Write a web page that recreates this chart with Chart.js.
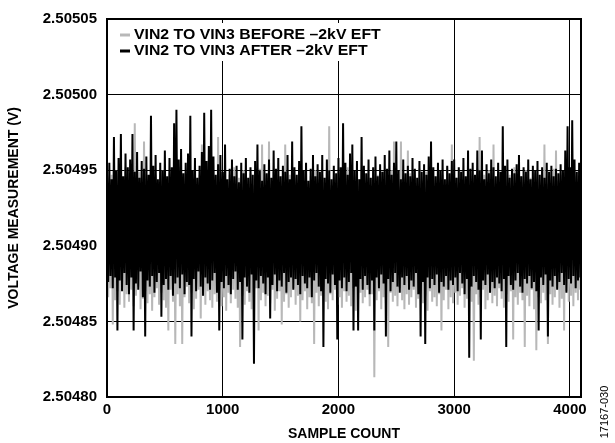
<!DOCTYPE html>
<html>
<head>
<meta charset="utf-8">
<script src="https://cdn.jsdelivr.net/npm/chart.js@4.4.1/dist/chart.umd.min.js"></script>
<style>
  html, body { margin: 0; padding: 0; background: #fff; }
  #wrap { width: 615px; height: 443px; }
</style>
</head>
<body>
<div id="wrap"><canvas id="chart" width="615" height="443"></canvas></div>
<script>
// samples are evenly spaced, one stored value every sampleStep samples
const sampleStep = 10;
const xTicks = [0, 1000, 2000, 3000, 4000];
const yTicks = [2.50480, 2.50485, 2.50490, 2.50495, 2.50500, 2.50505];
const seriesLabels = ['VIN2 TO VIN3 BEFORE \u20132kV EFT', 'VIN2 TO VIN3 AFTER \u20132kV EFT'];
const figureId = '17167-030';

// before -2kV EFT (grey)
const beforeVals = [
  2.504942,2.504866,2.504938,2.504872,2.504947,2.504848,2.504940,2.504864,2.504950,2.504870,2.504936,2.504861,2.504945,2.504874,2.504939,2.504859,2.504952,2.504868,2.504941,2.504863,
  2.504946,2.504871,2.504937,2.504860,2.504981,2.504867,2.504943,2.504873,2.504949,2.504858,2.504938,2.504865,2.504969,2.504870,2.504944,2.504862,2.504940,2.504868,2.504951,2.504857,
  2.504936,2.504866,2.504947,2.504872,2.504942,2.504861,2.504939,2.504869,2.504950,2.504864,2.504945,2.504859,2.504937,2.504844,2.504948,2.504871,2.504941,2.504863,2.504946,2.504835,
  2.504938,2.504868,2.504952,2.504860,2.504943,2.504835,2.504940,2.504866,2.504949,2.504873,2.504936,2.504862,2.504945,2.504869,2.504942,2.504858,2.504950,2.504865,2.504939,2.504871,
  2.504947,2.504852,2.504967,2.504867,2.504941,2.504861,2.504944,2.504870,2.504937,2.504864,2.504951,2.504859,2.504940,2.504868,2.504946,2.504863,2.504972,2.504872,2.504943,2.504860,
  2.504938,2.504866,2.504949,2.504857,2.504942,2.504869,2.504947,2.504862,2.504936,2.504871,2.504952,2.504865,2.504941,2.504859,2.504945,2.504833,2.504939,2.504867,2.504950,2.504861,
  2.504944,2.504870,2.504937,2.504863,2.504948,2.504858,2.504940,2.504866,2.504946,2.504872,2.504942,2.504844,2.504951,2.504864,2.504967,2.504869,2.504938,2.504860,2.504945,2.504867,
  2.504969,2.504862,2.504941,2.504871,2.504949,2.504857,2.504936,2.504865,2.504944,2.504870,2.504939,2.504848,2.504950,2.504863,2.504967,2.504868,2.504942,2.504859,2.504947,2.504866,
  2.504937,2.504872,2.504945,2.504861,2.504940,2.504867,2.504952,2.504850,2.504943,2.504864,2.504938,2.504870,2.504948,2.504858,2.504941,2.504866,2.504946,2.504862,2.504939,2.504835,
  2.504950,2.504869,2.504944,2.504860,2.504936,2.504867,2.504947,2.504873,2.504942,2.504863,2.504951,2.504858,2.504979,2.504868,2.504940,2.504864,2.504945,2.504871,2.504938,2.504861,
  2.504949,2.504866,2.504943,2.504859,2.504947,2.504870,2.504937,2.504863,2.504952,2.504867,2.504941,2.504860,2.504946,2.504872,2.504939,2.504857,2.504950,2.504865,2.504944,2.504869,
  2.504936,2.504862,2.504948,2.504866,2.504942,2.504871,2.504945,2.504860,2.504940,2.504868,2.504951,2.504813,2.504938,2.504864,2.504947,2.504870,2.504943,2.504858,2.504949,2.504866,
  2.504937,2.504862,2.504946,2.504833,2.504941,2.504869,2.504950,2.504863,2.504969,2.504867,2.504944,2.504860,2.504939,2.504872,2.504969,2.504864,2.504945,2.504858,2.504942,2.504868,
  2.504963,2.504861,2.504948,2.504866,2.504936,2.504871,2.504947,2.504859,2.504940,2.504865,2.504951,2.504869,2.504943,2.504862,2.504938,2.504867,2.504949,2.504857,2.504944,2.504870,
  2.504941,2.504863,2.504946,2.504866,2.504937,2.504860,2.504950,2.504868,2.504942,2.504844,2.504947,2.504864,2.504939,2.504871,2.504952,2.504858,2.504943,2.504866,2.504967,2.504862,
  2.504940,2.504869,2.504945,2.504861,2.504938,2.504867,2.504949,2.504872,2.504944,2.504859,2.504936,2.504865,2.504948,2.504870,2.504941,2.504863,2.504946,2.504824,2.504939,2.504868,
  2.504951,2.504861,2.504972,2.504866,2.504943,2.504871,2.504947,2.504858,2.504937,2.504864,2.504950,2.504869,2.504942,2.504862,2.504967,2.504867,2.504940,2.504860,2.504945,2.504872,
  2.504938,2.504865,2.504949,2.504859,2.504944,2.504868,2.504936,2.504863,2.504947,2.504870,2.504941,2.504838,2.504952,2.504866,2.504943,2.504861,2.504939,2.504869,2.504946,2.504864,
  2.504942,2.504833,2.504950,2.504867,2.504937,2.504860,2.504945,2.504871,2.504940,2.504858,2.504948,2.504831,2.504944,2.504866,2.504938,2.504862,2.504949,2.504869,2.504967,2.504864,
  2.504941,2.504835,2.504946,2.504868,2.504939,2.504861,2.504951,2.504866,2.504963,2.504872,2.504943,2.504859,2.504947,2.504865,2.504940,2.504844,2.504945,2.504870,2.504938,2.504863,
  2.504950,2.504867,2.504942,2.504860,2.504946,2.504869,2.504939,2.504864,2.504944,2.504871
];

// after -2kV EFT (black)
const afterVals = [
  2.504948,2.504876,2.504955,2.504880,2.504944,2.504872,2.504972,2.504879,2.504950,2.504844,2.504958,2.504877,2.504974,2.504870,2.504946,2.504882,2.504961,2.504874,2.504952,2.504868,
  2.504957,2.504879,2.504974,2.504844,2.504949,2.504875,2.504962,2.504871,2.504945,2.504883,2.504956,2.504866,2.504951,2.504840,2.504959,2.504877,2.504947,2.504873,2.504986,2.504880,
  2.504953,2.504869,2.504960,2.504876,2.504944,2.504882,2.504955,2.504853,2.504950,2.504874,2.504963,2.504878,2.504946,2.504871,2.504958,2.504880,2.504952,2.504867,2.504981,2.504875,
  2.504990,2.504879,2.504957,2.504872,2.504964,2.504881,2.504948,2.504868,2.504955,2.504876,2.504961,2.504874,2.504986,2.504840,2.504950,2.504878,2.504958,2.504870,2.504945,2.504883,
  2.504953,2.504873,2.504962,2.504867,2.504988,2.504879,2.504956,2.504875,2.504966,2.504871,2.504990,2.504877,2.504959,2.504882,2.504947,2.504869,2.504954,2.504844,2.504960,2.504876,
  2.504949,2.504872,2.504967,2.504880,2.504944,2.504874,2.504951,2.504868,2.504957,2.504878,2.504946,2.504883,2.504953,2.504871,2.504942,2.504876,2.504955,2.504838,2.504948,2.504879,
  2.504958,2.504873,2.504945,2.504869,2.504952,2.504881,2.504947,2.504822,2.504956,2.504877,2.504967,2.504872,2.504950,2.504880,2.504943,2.504875,2.504954,2.504868,2.504948,2.504879,
  2.504957,2.504852,2.504945,2.504874,2.504963,2.504881,2.504951,2.504870,2.504958,2.504877,2.504946,2.504873,2.504953,2.504882,2.504949,2.504869,2.504960,2.504876,2.504944,2.504879,
  2.504969,2.504871,2.504952,2.504878,2.504947,2.504874,2.504956,2.504868,2.504979,2.504880,2.504950,2.504875,2.504955,2.504872,2.504943,2.504879,2.504951,2.504866,2.504960,2.504877,
  2.504946,2.504882,2.504954,2.504873,2.504949,2.504870,2.504960,2.504833,2.504945,2.504878,2.504957,2.504875,2.504950,2.504869,2.504944,2.504881,2.504953,2.504874,2.504948,2.504838,
  2.504958,2.504877,2.504952,2.504872,2.504981,2.504879,2.504955,2.504870,2.504947,2.504876,2.504961,2.504882,2.504967,2.504844,2.504950,2.504873,2.504956,2.504844,2.504944,2.504878,
  2.504972,2.504871,2.504953,2.504880,2.504948,2.504874,2.504957,2.504868,2.504945,2.504877,2.504952,2.504844,2.504959,2.504879,2.504946,2.504872,2.504954,2.504881,2.504949,2.504875,
  2.504960,2.504840,2.504951,2.504878,2.504963,2.504870,2.504947,2.504876,2.504955,2.504882,2.504969,2.504873,2.504950,2.504869,2.504944,2.504879,2.504957,2.504874,2.504948,2.504880,
  2.504953,2.504871,2.504946,2.504877,2.504958,2.504873,2.504951,2.504882,2.504945,2.504868,2.504956,2.504840,2.504949,2.504876,2.504954,2.504835,2.504947,2.504879,2.504959,2.504872,
  2.504969,2.504878,2.504952,2.504874,2.504946,2.504881,2.504955,2.504869,2.504950,2.504876,2.504957,2.504873,2.504944,2.504880,2.504953,2.504871,2.504948,2.504877,2.504956,2.504874,
  2.504957,2.504879,2.504945,2.504870,2.504952,2.504882,2.504949,2.504875,2.504958,2.504868,2.504946,2.504878,2.504963,2.504826,2.504951,2.504873,2.504955,2.504880,2.504947,2.504876,
  2.504963,2.504871,2.504950,2.504838,2.504963,2.504877,2.504944,2.504874,2.504954,2.504881,2.504948,2.504869,2.504957,2.504876,2.504952,2.504872,2.504946,2.504879,2.504955,2.504875,
  2.504949,2.504870,2.504979,2.504878,2.504953,2.504833,2.504957,2.504880,2.504945,2.504874,2.504951,2.504871,2.504948,2.504877,2.504954,2.504882,2.504960,2.504873,2.504946,2.504869,
  2.504952,2.504878,2.504949,2.504875,2.504957,2.504880,2.504944,2.504872,2.504953,2.504876,2.504950,2.504870,2.504956,2.504844,2.504947,2.504879,2.504952,2.504874,2.504945,2.504881,
  2.504955,2.504840,2.504949,2.504877,2.504953,2.504873,2.504946,2.504880,2.504951,2.504871,2.504948,2.504876,2.504954,2.504882,2.504950,2.504874,2.504963,2.504869,2.504979,2.504878,
  2.504952,2.504875,2.504983,2.504880,2.504957,2.504872,2.504949,2.504877,2.504955,2.504879
];

const FONT = 'Arial, "Liberation Sans", sans-serif';
const GREY = '#b8b8b8';

const toPoints = vals => vals.map((v, i) => ({ x: i * sampleStep, y: v }));

// legend box drawn inside the plot, top left
const insideLegend = {
  id: 'insideLegend',
  afterDatasetsDraw(chart) {
    const { ctx, chartArea: a } = chart;
    ctx.save();
    ctx.fillStyle = '#fff';
    ctx.fillRect(a.left + 2, a.top + 4, 278, 38);
    ctx.font = 'bold 14px ' + FONT;
    ctx.textBaseline = 'middle';
    const items = [chart.data.datasets[0], chart.data.datasets[1]];
    items.forEach((ds, i) => {
      const y = a.top + 16 + i * 16;
      ctx.strokeStyle = ds.borderColor;
      ctx.lineWidth = 3;
      ctx.beginPath();
      ctx.moveTo(a.left + 13, y);
      ctx.lineTo(a.left + 23, y);
      ctx.stroke();
      ctx.fillStyle = '#000';
      // reference lettering is a little wider than plain Arial
      ctx.save();
      ctx.translate(a.left + 27, y);
      ctx.scale(1.13, 1);
      ctx.fillText(ds.label, 0, 0);
      ctx.restore();
    });
    ctx.restore();
  }
};

const frame = {
  id: 'frame',
  afterDraw(chart) {
    const { ctx, chartArea: a } = chart;
    ctx.save();
    ctx.strokeStyle = '#000';
    ctx.lineWidth = 2;
    ctx.strokeRect(a.left, a.top, a.right - a.left, a.bottom - a.top);
    ctx.translate(605, 412);
    ctx.rotate(-Math.PI / 2);
    ctx.font = '11px ' + FONT;
    ctx.fillStyle = '#000';
    ctx.textAlign = 'center';
    ctx.textBaseline = 'middle';
    ctx.fillText(figureId, 0, 0);
    ctx.restore();
  }
};

new Chart(document.getElementById('chart'), {
  type: 'line',
  data: {
    datasets: [
      {
        label: seriesLabels[0],
        data: toPoints(beforeVals),
        borderColor: GREY,
        borderWidth: 2,
        pointRadius: 0,
        order: 1
      },
      {
        label: seriesLabels[1],
        data: toPoints(afterVals),
        borderColor: '#000',
        borderWidth: 2,
        pointRadius: 0,
        order: 0
      }
    ]
  },
  options: {
    responsive: false,
    animation: false,
    devicePixelRatio: 1,
    layout: { padding: { top: 15, right: 34, left: 0, bottom: 0 } },
    plugins: {
      legend: { display: false },
      tooltip: { enabled: false }
    },
    scales: {
      x: {
        type: 'linear',
        min: 0,
        max: 4096,
        afterBuildTicks: s => { s.ticks = xTicks.map(v => ({ value: v })); },
        afterFit: s => { s.height = 46; },
        ticks: {
          color: '#000',
          font: { family: FONT, size: 15, weight: 'bold' },
          padding: 4,
          maxRotation: 0,
          autoSkip: false,
          callback: v => String(v)
        },
        grid: { color: '#000', lineWidth: 1, drawTicks: false },
        border: { display: true, color: '#000', width: 2 },
        title: {
          display: true,
          text: 'SAMPLE COUNT',
          color: '#000',
          font: { family: FONT, size: 14, weight: 'bold' },
          padding: { top: 0, bottom: 0 }
        }
      },
      y: {
        type: 'linear',
        min: yTicks[0],
        max: yTicks[yTicks.length - 1],
        afterBuildTicks: s => { s.ticks = yTicks.map(v => ({ value: v })); },
        afterFit: s => { s.width = 107; },
        ticks: {
          color: '#000',
          font: { family: FONT, size: 15, weight: 'bold' },
          padding: 10,
          callback: v => Number(v).toFixed(5)
        },
        grid: { color: '#000', lineWidth: 1, drawTicks: false },
        border: { display: true, color: '#000', width: 2 },
        title: {
          display: true,
          text: 'VOLTAGE MEASUREMENT (V)',
          color: '#000',
          font: { family: FONT, size: 14, weight: 'bold' },
          padding: { top: 6, bottom: 0 }
        }
      }
    }
  },
  plugins: [insideLegend, frame]
});
</script>
</body>
</html>
